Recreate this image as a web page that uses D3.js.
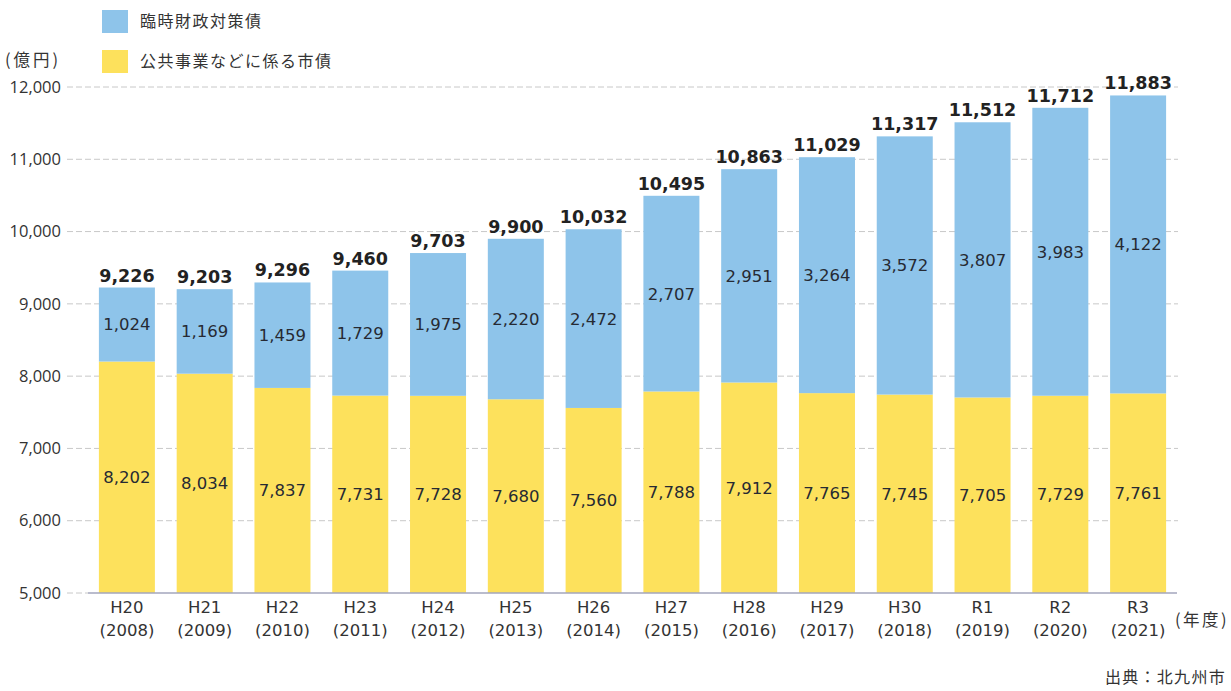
<!DOCTYPE html>
<html lang="ja">
<head>
<meta charset="utf-8">
<script src="https://cdn.jsdelivr.net/npm/d3@7"></script>
<style>
  html, body { margin: 0; padding: 0; background: #ffffff; }
  svg { display: block; }
</style>
</head>
<body>
<svg id="chart" width="1231" height="691"></svg>
<script>
// 北九州市の市債残高（億円）
const eraLabels  = ["H20","H21","H22","H23","H24","H25","H26","H27","H28","H29","H30","R1","R2","R3"];
const yearLabels = ["2008","2009","2010","2011","2012","2013","2014","2015","2016","2017","2018","2019","2020","2021"];
const publicWorksBonds = [8202,8034,7837,7731,7728,7680,7560,7788,7912,7765,7745,7705,7729,7761];
const tempFiscalBonds  = [1024,1169,1459,1729,1975,2220,2472,2707,2951,3264,3572,3807,3983,4122];
const totals           = [9226,9203,9296,9460,9703,9900,10032,10495,10863,11029,11317,11512,11712,11883];
const yTicks = [5000,6000,7000,8000,9000,10000,11000,12000];
const seriesNames = ["臨時財政対策債","公共事業などに係る市債"];

const COLOR_BLUE = "#8ec4ea";
const COLOR_YELLOW = "#fde15c";
const LATIN = "'DejaVu Sans', Verdana, sans-serif";
const CJK = "'Noto Sans CJK JP', 'Noto Sans', sans-serif";

const svg = d3.select("#chart");

const x = d3.scaleBand()
  .domain(eraLabels)
  .range([88, 1177])
  .paddingInner(0.28)
  .paddingOuter(0.14);

const y = d3.scaleLinear()
  .domain([5000, 12000])
  .range([593, 87]);

const fmt = d3.format(",");

// dashed horizontal grid
svg.append("g")
  .selectAll("line")
  .data(yTicks.filter(t => t > 5000))
  .join("line")
  .attr("x1", 67).attr("x2", 1178)
  .attr("y1", d => y(d)).attr("y2", d => y(d))
  .attr("stroke", "#c8c8c8")
  .attr("stroke-width", 1)
  .attr("stroke-dasharray", "6,3");

// short dashed stub at the baseline, left of the axis line
svg.append("line")
  .attr("x1", 67).attr("x2", 88)
  .attr("y1", y(5000)).attr("y2", y(5000))
  .attr("stroke", "#c8c8c8")
  .attr("stroke-dasharray", "6,3");

// y axis tick labels
const yAxis = d3.axisLeft(y).tickValues(yTicks).tickFormat(fmt).tickSize(0).tickPadding(0);
const gy = svg.append("g").attr("transform", "translate(61,0)").call(yAxis);
gy.select(".domain").remove();
gy.selectAll("text")
  .attr("font-family", "'Open Sans', sans-serif")
  .attr("font-size", 16.5)
  .attr("fill", "#333");

// stacked bars
const stackData = eraLabels.map((e, i) => ({ era: e, pub: publicWorksBonds[i], temp: tempFiscalBonds[i] }));
const stack = d3.stack().keys(["pub", "temp"]);
const layers = stack(stackData);
const layerColors = { pub: COLOR_YELLOW, temp: COLOR_BLUE };

svg.append("g")
  .selectAll("g")
  .data(layers)
  .join("g")
  .attr("fill", d => layerColors[d.key])
  .selectAll("rect")
  .data(d => d)
  .join("rect")
  .attr("x", d => x(d.data.era))
  .attr("width", x.bandwidth())
  .attr("y", d => y(d[1]))
  .attr("height", d => y(Math.max(d[0], 5000)) - y(d[1]));

// axis baseline
svg.append("line")
  .attr("x1", 88).attr("x2", 1177)
  .attr("y1", y(5000)).attr("y2", y(5000))
  .attr("stroke", "#a3a6bd")
  .attr("stroke-width", 1.5);

// value labels inside each segment
svg.append("g")
  .selectAll("g")
  .data(layers)
  .join("g")
  .selectAll("text")
  .data(d => d)
  .join("text")
  .attr("x", d => x(d.data.era) + x.bandwidth() / 2)
  .attr("y", d => (y(Math.max(d[0], 5000)) + y(d[1])) / 2)
  .attr("dy", "0.36em")
  .attr("text-anchor", "middle")
  .attr("font-family", LATIN)
  .attr("font-size", 16.5)
  .attr("fill", "#262a33")
  .text(d => fmt(d[1] - d[0]));

// totals above bars
svg.append("g")
  .selectAll("text")
  .data(totals)
  .join("text")
  .attr("x", (d, i) => x(eraLabels[i]) + x.bandwidth() / 2)
  .attr("y", d => y(d) - 6)
  .attr("text-anchor", "middle")
  .attr("font-family", LATIN)
  .attr("font-weight", "bold")
  .attr("font-size", 17.5)
  .attr("fill", "#222")
  .text(d => fmt(d));

// x axis category labels (era + year)
const xl = svg.append("g")
  .selectAll("text")
  .data(eraLabels)
  .join("text")
  .attr("x", d => x(d) + x.bandwidth() / 2)
  .attr("text-anchor", "middle")
  .attr("font-family", LATIN)
  .attr("font-size", 16.5)
  .attr("fill", "#333");
xl.append("tspan").attr("x", d => x(d) + x.bandwidth() / 2).attr("y", 613).text(d => d);
xl.append("tspan").attr("x", d => x(d) + x.bandwidth() / 2).attr("y", 636).text((d, i) => "(" + yearLabels[i] + ")");

// units
svg.append("text")
  .attr("x", 5).attr("y", 66)
  .attr("font-family", CJK).attr("font-size", 16.5).attr("letter-spacing", 3).attr("fill", "#333")
  .text("(億円)");
svg.append("text")
  .attr("x", 1175).attr("y", 626)
  .attr("font-family", CJK).attr("font-size", 16.5).attr("letter-spacing", 2.5).attr("fill", "#333")
  .text("(年度)");

// legend
const legend = svg.append("g");
[COLOR_BLUE, COLOR_YELLOW].forEach((c, i) => {
  legend.append("rect")
    .attr("x", 102).attr("y", 10 + i * 40)
    .attr("width", 26).attr("height", 23)
    .attr("fill", c);
  legend.append("text")
    .attr("x", 140).attr("y", 21.5 + i * 40)
    .attr("dy", "0.36em")
    .attr("font-family", CJK).attr("font-size", 16).attr("letter-spacing", 1.5)
    .attr("fill", "#333")
    .text(seriesNames[i]);
});

// source
svg.append("text")
  .attr("x", 1226).attr("y", 683)
  .attr("text-anchor", "end")
  .attr("font-family", CJK).attr("font-size", 16).attr("letter-spacing", 1.3)
  .attr("fill", "#333")
  .text("出典：北九州市");
</script>
</body>
</html>
